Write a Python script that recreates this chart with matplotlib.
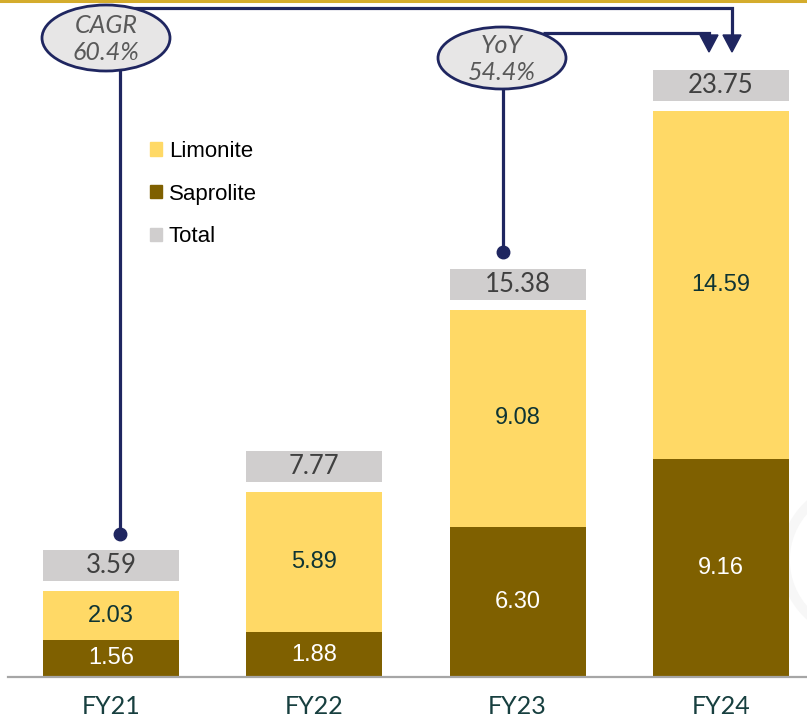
import matplotlib
matplotlib.use("Agg")
import matplotlib.pyplot as plt
from matplotlib.patches import Ellipse, Polygon, Patch
from matplotlib.lines import Line2D

# ---- data ----
categories = ["FY21", "FY22", "FY23", "FY24"]
saprolite = [1.56, 1.88, 6.30, 9.16]
limonite = [2.03, 5.89, 9.08, 14.59]
totals = [3.59, 7.77, 15.38, 23.75]
cagr_label = "CAGR\n60.4%"
yoy_label = "YoY\n54.4%"
legend_labels = ["Limonite", "Saprolite", "Total"]

# ---- style ----
C_LIM = "#FFD966"
C_SAP = "#7F6000"
C_TOT = "#D0CECE"
C_NAVY = "#1F2660"
C_ELL = "#E7E6E6"
C_DARK = "#0E3434"

W, H = 807, 721
fig = plt.figure(figsize=(W / 100, H / 100), dpi=100)
BASE = 677          # baseline pixel (from top)
X0, DX = 111, 203.3 # first centre pixel, spacing
PPU = 23.85         # pixels per unit
ax = fig.add_axes([0, (H - BASE) / H, 1, BASE / H])
ax.set_xlim(-X0 / DX, (W - X0) / DX)
ax.set_ylim(0, BASE / PPU)
ax.axis("off")

def P(px, py):
    """pixel (from top-left) -> data coords"""
    return (px - X0) / DX, (BASE - py) / PPU

x = list(range(len(categories)))
bw = 136 / DX
ax.bar(x, saprolite, width=bw, color=C_SAP, zorder=2)
ax.bar(x, limonite, width=bw, bottom=saprolite, color=C_LIM, zorder=2)

gap = 10 / PPU
bh = 31 / PPU
ax.bar(x, [bh] * len(x), width=bw, bottom=[t + gap for t in totals], color=C_TOT, zorder=2)

lat = ["Lato", "DejaVu Sans"]
ari = ["Liberation Sans", "DejaVu Sans"]
for i in x:
    ax.text(i, saprolite[i] / 2, f"{saprolite[i]:.2f}", ha="center", va="center",
            color="white", fontsize=17, family=ari, zorder=3)
    ax.text(i, saprolite[i] + limonite[i] / 2, f"{limonite[i]:.2f}", ha="center", va="center",
            color=C_DARK, fontsize=17, family=ari, zorder=3)
    ax.text(i, totals[i] + gap + bh / 2, f"{totals[i]:.2f}", ha="center", va="center",
            color="#404040", fontsize=18.5, family=lat, zorder=3)
    ax.text(i, -30 / PPU, categories[i], ha="center", va="center", color="#173F3F",
            fontsize=18, family=lat, clip_on=False)

# baseline
ax.add_line(Line2D([P(8, 0)[0], P(W, 0)[0]], [0, 0], color="#A6A6A6", lw=1.6, zorder=4, clip_on=False))

# top gold line
fig.add_artist(Line2D([0, 1], [1 - 1 / H, 1 - 1 / H], color="#D4AC2C", lw=2.2, transform=fig.transFigure))

# faint watermark ring
cx, cy = P(860, 560)
ax.add_patch(Ellipse((cx, cy), 150 / DX, 150 / PPU, fill=False, ec="#F7F7F7", lw=7, zorder=1))

LW = 2.3
def line(pts):
    xs, ys = zip(*[P(*p) for p in pts])
    ax.add_line(Line2D(xs, ys, color=C_NAVY, lw=LW, zorder=5, solid_capstyle="butt",
                       solid_joinstyle="miter"))

def arrowhead(tx, ty, w=18, h=17):
    pts = [P(tx - w / 2, ty - h), P(tx + w / 2, ty - h), P(tx, ty)]
    ax.add_patch(Polygon(pts, closed=True, color=C_NAVY, zorder=5))

# CAGR connector
line([(127, 8), (732, 8), (732, 36)])
arrowhead(732, 52)
line([(120, 70), (120, 534)])
dx, dy = P(120, 534)
ax.plot([dx], [dy], "o", color=C_NAVY, ms=9, zorder=6)

# YoY connector
line([(543, 33), (709, 33), (709, 36)])
arrowhead(709, 52)
line([(503, 88), (503, 252)])
dx, dy = P(503, 252)
ax.plot([dx], [dy], "o", color=C_NAVY, ms=9, zorder=6)

# ellipses
for (ex, ey, ew, eh, lab) in [(106, 38, 128, 66, cagr_label), (502, 58, 128, 62, yoy_label)]:
    c = P(ex, ey)
    ax.add_patch(Ellipse(c, ew / DX, eh / PPU, fc=C_ELL, ec=C_NAVY, lw=2, zorder=7))
    ax.text(c[0], c[1] - 1 / PPU, lab, ha="center", va="center", color="#595959", fontsize=18,
            style="italic", family=lat, linespacing=1.2, zorder=8)

# legend
handles = [Patch(color=C_LIM), Patch(color=C_SAP), Patch(color=C_TOT)]
leg = ax.legend(handles, legend_labels, loc="upper left", frameon=False,
                bbox_to_anchor=(150 / W, 1 - 141 / BASE), bbox_transform=ax.transAxes,
                prop={"family": "Liberation Sans", "size": 16}, handlelength=0.55,
                handleheight=0.55, handletextpad=0.3, labelspacing=0.97, borderaxespad=0,
                borderpad=0)

fig.savefig("out.png", dpi=100)
